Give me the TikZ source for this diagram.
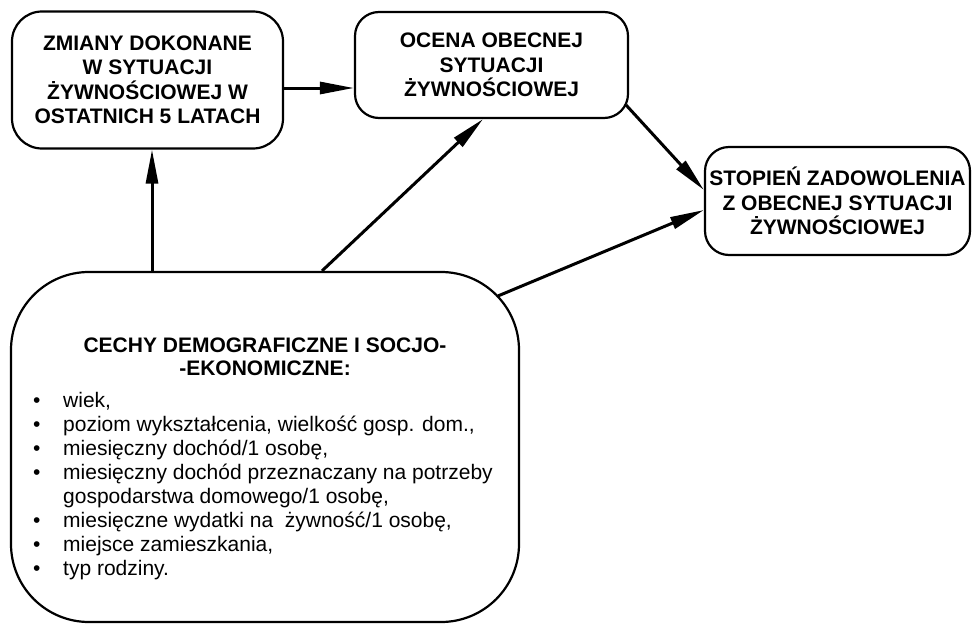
\documentclass[tikz,border=0pt]{standalone}
\usepackage{fontspec}
\setmainfont{Liberation Sans}
\usetikzlibrary{arrows.meta,calc}
\begin{document}
\begin{tikzpicture}[x=1pt,y=-1pt,
  box/.style={draw, line width=2.2pt, align=center, inner sep=0pt,
    font=\bfseries\fontsize{21}{24.5}\selectfont},
  arr/.style={line width=3pt, -{Triangle[length=34pt,width=12pt]}},
  listtext/.style={align=left, inner sep=0pt, font=\fontsize{21}{24}\selectfont}]
\useasboundingbox (0,0) rectangle (973,626);
\node[box, rounded corners=30pt, minimum width=271pt, minimum height=137pt] (A) at (147.5,80)
  {ZMIANY DOKONANE\\W SYTUACJI\\ŻYWNOŚCIOWEJ W\\OSTATNICH 5 LATACH};
\node[box, rounded corners=24pt, minimum width=273pt, minimum height=106pt] (B) at (491.5,65)
  {OCENA OBECNEJ\\SYTUACJI\\ŻYWNOŚCIOWEJ};
\node[box, rounded corners=24pt, minimum width=265pt, minimum height=108pt] (C) at (837.5,201)
  {STOPIEŃ ZADOWOLENIA\\Z OBECNEJ SYTUACJI\\ŻYWNOŚCIOWEJ};
\node[box, rounded corners=78pt, minimum width=508pt, minimum height=350pt] (D) at (265,447) {};
\node[font=\bfseries\fontsize{21}{23.5}\selectfont, align=center, inner sep=0pt] (Dt) at (265,357)
  {CECHY DEMOGRAFICZNE I SOCJO-\\-EKONOMICZNE:};
\node[listtext, anchor=north west] (L) at (30,392)
  {\makebox[33pt][l]{\hspace*{3pt}\textbullet}wiek,\\
   \makebox[33pt][l]{\hspace*{3pt}\textbullet}poziom wykształcenia, wielkość gosp. dom.,\\
   \makebox[33pt][l]{\hspace*{3pt}\textbullet}miesięczny dochód/1 osobę,\\
   \makebox[33pt][l]{\hspace*{3pt}\textbullet}miesięczny dochód przeznaczany na potrzeby\\
   \hspace*{33pt}gospodarstwa domowego/1 osobę,\\
   \makebox[33pt][l]{\hspace*{3pt}\textbullet}miesięczne wydatki na \ żywność/1 osobę,\\
   \makebox[33pt][l]{\hspace*{3pt}\textbullet}miejsce zamieszkania,\\
   \makebox[33pt][l]{\hspace*{3pt}\textbullet}typ rodziny.};
\draw[arr] (A.east |- 0,88) -- (B.west |- 0,88);
\draw[arr] (D.north -| 152,0) -- (A.south -| 152,0);
\draw[arr] (D.north -| 322,0) -- (B.south -| 483,0);
\draw[arr] ($(B.south east)+(-3,-14)$) -- (C.west |- 0,190);
\draw[arr] ($(D.north east)+(-22,25)$) -- (C.west |- 0,210);
\end{tikzpicture}
\end{document}
